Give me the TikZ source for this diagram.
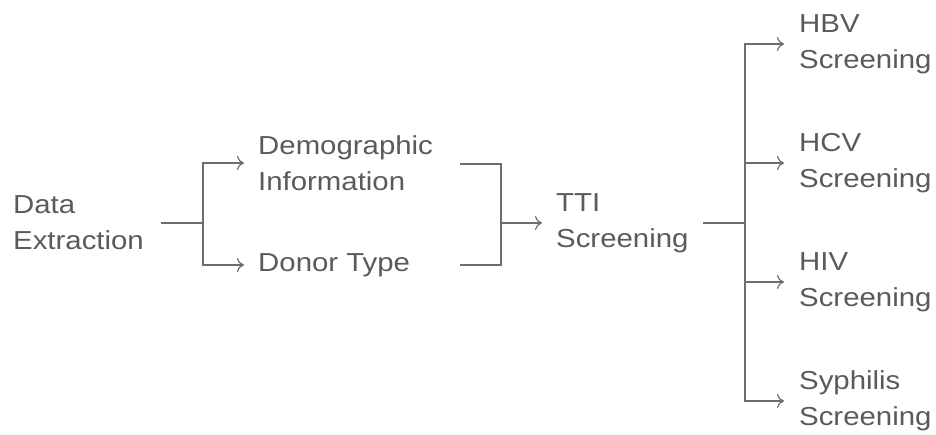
\documentclass[tikz,border=0pt]{standalone}
\usepackage{fontspec}
\setmainfont{Liberation Sans}[FakeStretch=1.13]
\usetikzlibrary{arrows.meta}
\definecolor{txt}{HTML}{5A5A5A}
\definecolor{ln}{HTML}{6E6E6E}
\tikzset{
  lbl/.style={anchor=west, align=left, inner sep=0pt, text=txt, font=\fontsize{26}{36}\selectfont},
  conn/.style={draw=ln, line width=1.2pt},
  arr/.style={conn, -{To[length=7pt, width=14pt]}}
}
\begin{document}
\begin{tikzpicture}[x=1pt,y=-1pt]
\useasboundingbox (0,0) rectangle (936,435);
\node[lbl] (de) at (13,223) {Data\\Extraction};
\node[lbl] (dm) at (258,163) {Demographic\\Information};
\node[lbl] (dt) at (258,265) {Donor Type};
\node[lbl] (tti) at (556,223) {TTI\\Screening};
\node[lbl] (hbv) at (799,44) {HBV\\Screening};
\node[lbl] (hcv) at (799,163) {HCV\\Screening};
\node[lbl] (hiv) at (799,282) {HIV\\Screening};
\node[lbl] (syp) at (799,401) {Syphilis\\Screening};
\coordinate (s1) at (203,223);
\coordinate (j1) at (501,223);
\coordinate (s2) at (745,223);
\draw[conn] (161,223) -- (s1);
\draw[arr] (s1) |- ([xshift=-14pt]dm.west);
\draw[arr] (s1) |- ([xshift=-14pt]dt.west);
\draw[conn] (460,164) -| (j1);
\draw[conn] (460,265) -| (j1);
\draw[arr] (j1) -- ([xshift=-14pt]tti.west);
\draw[conn] (703,223) -- (s2);
\draw[arr] (s2) |- ([xshift=-15pt]hbv.west);
\draw[arr] (s2) |- ([xshift=-15pt]hcv.west);
\draw[arr] (s2) |- ([xshift=-15pt]hiv.west);
\draw[arr] (s2) |- ([xshift=-15pt]syp.west);
\end{tikzpicture}
\end{document}
